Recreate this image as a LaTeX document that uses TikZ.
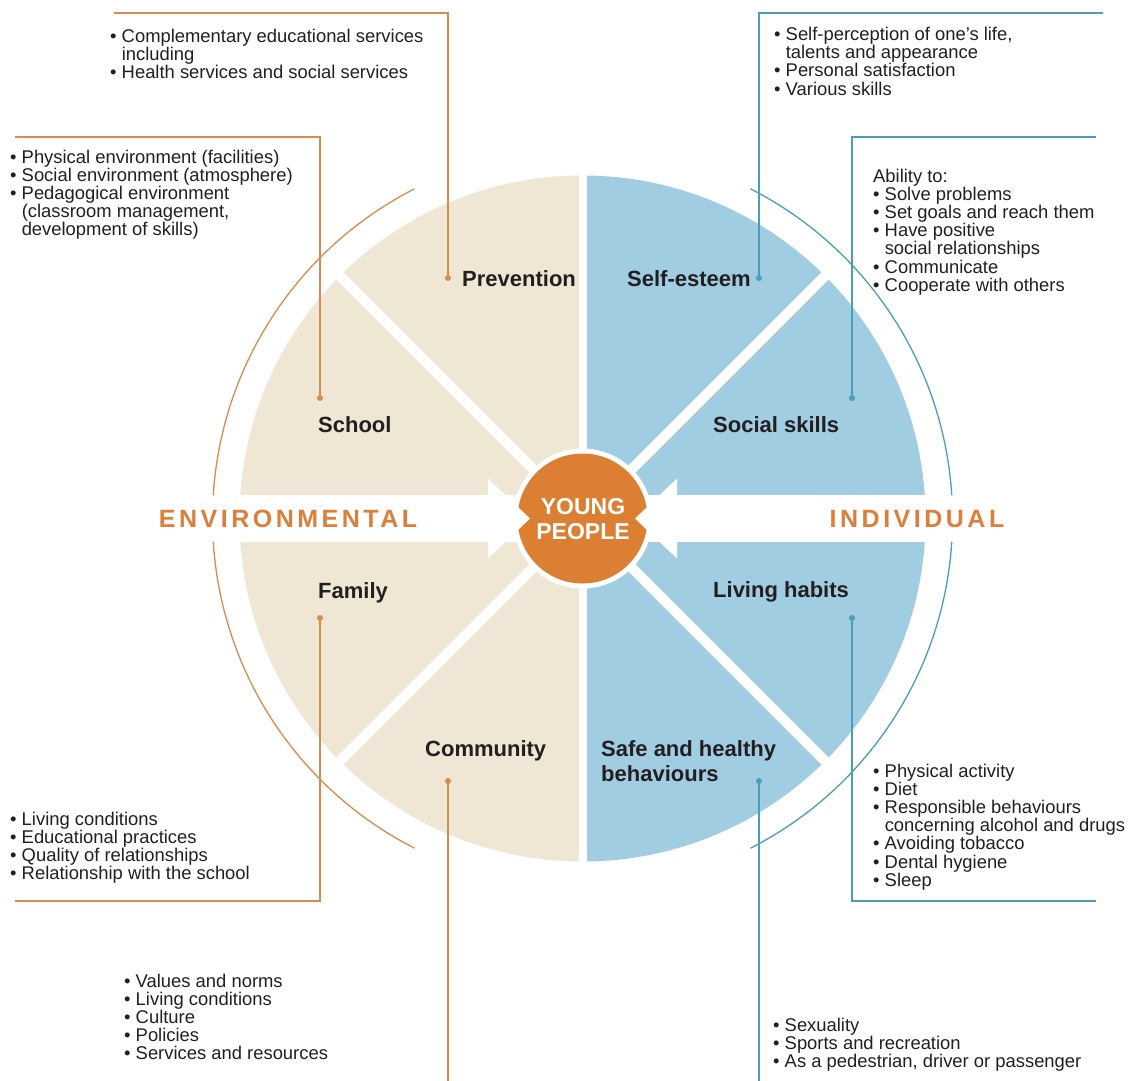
\documentclass[tikz,border=0pt]{standalone}
\usepackage{fontspec}
\setmainfont{Liberation Sans}
\newfontfamily\spacedfont[LetterSpace=14]{Liberation Sans}
\definecolor{beigeF}{HTML}{EFE7D4}
\definecolor{blueF}{HTML}{A1CDE3}
\definecolor{orangeF}{HTML}{DD7F32}
\definecolor{orangeT}{HTML}{DC7F3A}
\definecolor{orangeL}{HTML}{D98A4F}
\definecolor{blueL}{HTML}{4A9EB8}
\definecolor{txt}{HTML}{231F20}
\newcommand\myind{\hphantom{•\ }}
\tikzset{
  bulletsty/.style={anchor=base west, inner sep=0, text=txt, font=\fontsize{18.4}{18.2}\selectfont},
  seclbl/.style={anchor=base west, inner sep=0, text=txt, font=\bfseries\fontsize{22}{25}\selectfont},
  leadO/.style={draw=orangeL, line width=1.8pt},
  leadB/.style={draw=blueL, line width=1.8pt},
  dotO/.style={circle, fill=orangeL, inner sep=0, minimum size=6pt},
  dotB/.style={circle, fill=blueL, inner sep=0, minimum size=6pt},
  arcO/.style={draw=orangeL, line width=1.3pt},
  arcB/.style={draw=blueL, line width=1.3pt},
  bigword/.style={anchor=base, inner sep=0, font=\spacedfont\bfseries\fontsize{25}{28}\selectfont}
}
\begin{document}
\begin{tikzpicture}[x=1pt,y=-1pt]
\useasboundingbox[fill=white] (0,0) rectangle (1133,1080);

% ---- disk ----
\begin{scope}[shift={(582.5,518.5)}, yscale=-1]
  \fill[beigeF] (90:343) arc (90:270:343) -- cycle;
  \fill[blueF] (-90:343) arc (-90:90:343) -- cycle;
  \draw[white, line width=8pt] (0,-346) -- (0,346);
  \draw[white, line width=10pt] (45:346) -- (225:346);
  \draw[white, line width=10pt] (135:346) -- (315:346);
  \fill[white] (-350,-23.5) rectangle (350,23.5);
  \fill[white] (0,0) circle (70);
  \fill[orangeF] (0,0) circle (65);
  \fill[white] (-94.5,40) -- (-52.5,0) -- (-94.5,-40) -- cycle;
  \fill[white] (94.5,40) -- (52.5,0) -- (94.5,-40) -- cycle;
  \draw[arcO] (117:370) arc (117:176.4:370);
  \draw[arcO] (183.6:370) arc (183.6:243:370);
  \draw[arcB] (63:370) arc (63:3.6:370);
  \draw[arcB] (-3.6:370) arc (-3.6:-63:370);
\end{scope}

% ---- centre ----
\node[align=center, inner sep=0, text=white, font=\bfseries\fontsize{23}{25.5}\selectfont] (yp) at (583,519) {YOUNG\\PEOPLE};
\node[bigword, text=orangeT] (env) at (288,527) {ENVIRONMENTAL};
\node[bigword, text=orangeT] (ind) at (917,527) {INDIVIDUAL};

% ---- sector labels ----
\node[seclbl] (prev) at (462,286) {Prevention};
\node[seclbl] (self) at (627,286) {Self-esteem};
\node[seclbl] (school) at (318,432) {School};
\node[seclbl] (social) at (713,432) {Social skills};
\node[seclbl] (family) at (318,598) {Family};
\node[seclbl] (living) at (713,597) {Living habits};
\node[seclbl] (comm) at (425,756) {Community};
\node[seclbl] (safe) at (601,756) {\parbox[t]{250pt}{\raggedright Safe and healthy\\behaviours}};

% ---- leader dots and ends ----
\node[dotO] (dPrev) at (448,278) {};
\node[dotO] (dSchool) at (320,398) {};
\node[dotO] (dFamily) at (320,618) {};
\node[dotO] (dComm) at (448,781) {};
\node[dotB] (dSelf) at (759,278) {};
\node[dotB] (dSocial) at (852,398) {};
\node[dotB] (dLiving) at (852,618) {};
\node[dotB] (dSafe) at (759,781) {};
\coordinate (ePrev) at (114,13);
\coordinate (eSchool) at (15,137);
\coordinate (eFamily) at (15,901);
\coordinate (eComm) at (448,1082);
\coordinate (eSelf) at (1103,13);
\coordinate (eSocial) at (1096,137);
\coordinate (eLiving) at (1096,901);
\coordinate (eSafe) at (759,1082);
\draw[leadO] (dPrev.center) |- (ePrev);
\draw[leadO] (dSchool.center) |- (eSchool);
\draw[leadO] (dFamily.center) |- (eFamily);
\draw[leadO] (dComm.center) -- (eComm);
\draw[leadB] (dSelf.center) |- (eSelf);
\draw[leadB] (dSocial.center) |- (eSocial);
\draw[leadB] (dLiving.center) |- (eLiving);
\draw[leadB] (dSafe.center) -- (eSafe);

% ---- bullet blocks ----
\node[bulletsty] (b1) at (110,42) {\parbox[t]{400pt}{\raggedright
• Complementary educational services\\
\myind including\\
• Health services and social services}};
\node[bulletsty] (b2) at (10,163) {\parbox[t]{400pt}{\raggedright
• Physical environment (facilities)\\
• Social environment (atmosphere)\\
• Pedagogical environment\\
\myind (classroom management,\\
\myind development of skills)}};
\node[bulletsty] (b3) at (774,40.5) {\parbox[t]{400pt}{\raggedright
• Self-perception of one’s life,\\
\myind talents and appearance\\
• Personal satisfaction\\
• Various skills}};
\node[bulletsty] (b4) at (873,182) {\parbox[t]{400pt}{\raggedright
Ability to:\\
• Solve problems\\
• Set goals and reach them\\
• Have positive\\
\myind social relationships\\
• Communicate\\
• Cooperate with others}};
\node[bulletsty] (b5) at (10,825) {\parbox[t]{400pt}{\raggedright
• Living conditions\\
• Educational practices\\
• Quality of relationships\\
• Relationship with the school}};
\node[bulletsty] (b6) at (873,777) {\parbox[t]{400pt}{\raggedright
• Physical activity\\
• Diet\\
• Responsible behaviours\\
\myind concerning alcohol and drugs\\
• Avoiding tobacco\\
• Dental hygiene\\
• Sleep}};
\node[bulletsty] (b7) at (124,987) {\parbox[t]{400pt}{\raggedright
• Values and norms\\
• Living conditions\\
• Culture\\
• Policies\\
• Services and resources}};
\node[bulletsty] (b8) at (773,1031) {\parbox[t]{400pt}{\raggedright
• Sexuality\\
• Sports and recreation\\
• As a pedestrian, driver or passenger}};
\end{tikzpicture}
\end{document}
